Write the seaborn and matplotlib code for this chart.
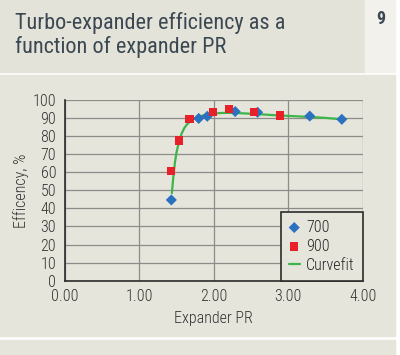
import pandas as pd
import matplotlib
matplotlib.use("Agg")
import matplotlib.pyplot as plt
import seaborn as sns
from matplotlib.patches import Rectangle

# Data
pr_700 = [1.433, 1.80, 1.915, 2.29, 2.59, 3.29, 3.72]
eff_700 = [44.7, 89.8, 91.0, 93.6, 93.2, 91.1, 89.3]
pr_900 = [1.425, 1.54, 1.675, 1.99, 2.21, 2.54, 2.89]
eff_900 = [60.8, 77.6, 89.5, 93.5, 95.0, 93.3, 91.5]
fit_pr = [1.44, 1.46, 1.48, 1.50, 1.53, 1.57, 1.61, 1.65, 1.70, 1.75, 1.80,
          1.90, 2.00, 2.10, 2.20, 2.30, 2.50, 2.70, 2.90, 3.10, 3.30, 3.50, 3.72]
fit_eff = [48.5, 57.5, 65.0, 70.5, 76.0, 81.3, 84.7, 86.8, 88.7, 89.9, 90.8,
           91.9, 92.5, 92.8, 92.9, 92.8, 92.4, 91.9, 91.4, 91.0, 90.6, 90.1, 89.3]
x_ticks = [0, 1, 2, 3, 4]
y_ticks = [0, 10, 20, 30, 40, 50, 60, 70, 80, 90, 100]

df_700 = pd.DataFrame({"pr": pr_700, "eff": eff_700})
df_900 = pd.DataFrame({"pr": pr_900, "eff": eff_900})
df_fit = pd.DataFrame({"pr": fit_pr, "eff": fit_eff})

sns.set_style("white")
plt.rcParams["font.family"] = ["Roboto Condensed", "Roboto", "DejaVu Sans"]

bg = "#e6e5dc"
ink = "#3b4852"
fig = plt.figure(figsize=(4, 3.55), dpi=100, facecolor="white")

# background panels
fig.patches.append(Rectangle((0, 1 - 71.5 / 355), 365 / 400, 71.5 / 355,
                             transform=fig.transFigure, color="#e4e3da", zorder=-5))
fig.patches.append(Rectangle((365 / 400, 1 - 71.5 / 355), 30 / 400, 71.5 / 355,
                             transform=fig.transFigure, color="#f2f1ec", zorder=-5))
fig.patches.append(Rectangle((0, 1 - 336 / 355), 395 / 400, 261 / 355,
                             transform=fig.transFigure, color=bg, zorder=-5))
fig.patches.append(Rectangle((0, 0), 395 / 400, 15 / 355,
                             transform=fig.transFigure, color=bg, zorder=-5))

# title
fig.text(15 / 400, 1 - 29.5 / 355, "Turbo-expander efficiency as a", fontsize=16,
         fontweight="normal", color=ink, va="baseline", ha="left")
fig.text(15 / 400, 1 - 53.5 / 355, "function of expander PR", fontsize=16,
         fontweight="normal", color=ink, va="baseline", ha="left")
fig.text(381 / 400, 1 - 19 / 355, "9", fontsize=13, fontweight="bold",
         color=ink, va="center", ha="center")

ax = fig.add_axes([64.5 / 400, 1 - 280.7 / 355, 298.2 / 400, 180.7 / 355])
ax.set_facecolor(bg)

sns.lineplot(data=df_fit, x="pr", y="eff", ax=ax, color="#3cb54a", lw=1.6,
             sort=False, label="Curvefit", zorder=2)
sns.scatterplot(data=df_700, x="pr", y="eff", ax=ax, marker="D", s=32,
                color="#2a72bf", edgecolor="none", label="700", zorder=3)
sns.scatterplot(data=df_900, x="pr", y="eff", ax=ax, marker="s", s=36,
                color="#e8202a", edgecolor="none", label="900", zorder=4)

ax.set_xlim(0, 4)
ax.set_ylim(0, 100)
ax.set_xticks(x_ticks)
ax.set_xticklabels([f"{v:.2f}" for v in x_ticks])
ax.set_yticks(y_ticks)
ax.grid(True, color="#8c8c88", lw=0.9)
ax.set_axisbelow(True)
for s in ["top", "right"]:
    ax.spines[s].set_visible(False)
for s in ["left", "bottom"]:
    ax.spines[s].set_color("#2b2b2b")
    ax.spines[s].set_linewidth(1.2)
ax.tick_params(axis="both", direction="out", length=4, width=1, color="#2b2b2b",
               labelsize=11.5, labelcolor="#333333", pad=2)
for lbl in ax.get_xticklabels() + ax.get_yticklabels():
    lbl.set_fontweight("light")
ax.set_xlabel("Expander PR", fontsize=11.5, fontweight="light", color="#333333")
ax.set_ylabel("Efficency, %", fontsize=11.5, fontweight="light", color="#333333")
ax.xaxis.set_label_coords(0.5, -0.165)
ax.yaxis.set_label_coords(-0.118, 0.5)

handles, labels = ax.get_legend_handles_labels()
order = [labels.index("700"), labels.index("900"), labels.index("Curvefit")]
leg = ax.legend([handles[i] for i in order], [labels[i] for i in order],
                loc="lower right", bbox_to_anchor=(1.0, 0.0), fontsize=11.5,
                frameon=True, fancybox=False, edgecolor="#2b2b2b", facecolor=bg,
                framealpha=1, handlelength=0.7, handletextpad=0.4,
                borderpad=0.5, labelspacing=0.25, borderaxespad=0)
leg.get_frame().set_linewidth(1.2)
for t in leg.get_texts():
    t.set_fontweight("light")

fig.savefig("out.png", dpi=100, facecolor=fig.get_facecolor())
